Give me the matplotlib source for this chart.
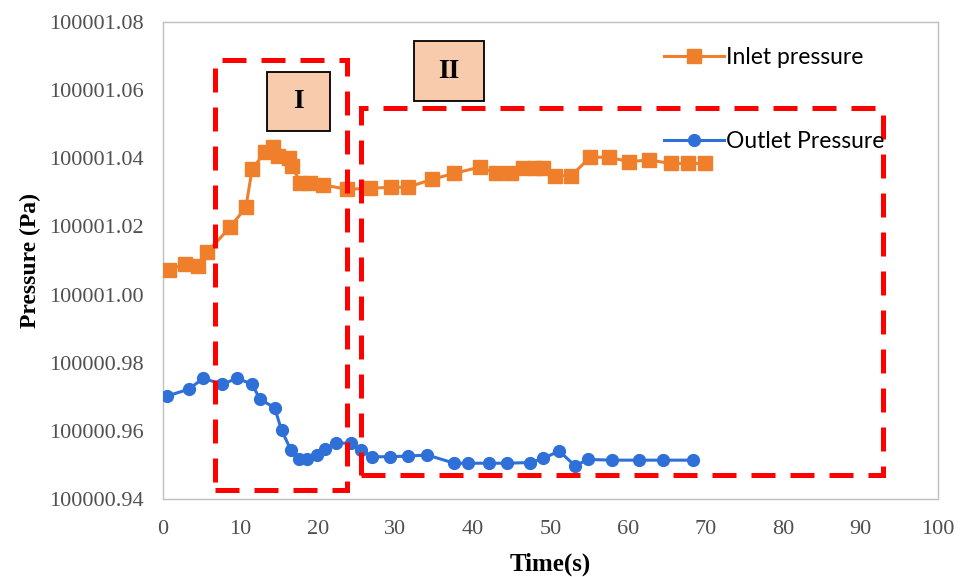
"""Inlet and outlet pressure over time with the two flow regions marked."""

import matplotlib

matplotlib.use("Agg")
import matplotlib.pyplot as plt
from matplotlib.patches import Rectangle
from matplotlib.ticker import MultipleLocator, StrMethodFormatter

# values
inlet_time = [0.8, 2.8, 4.5, 5.7, 8.7, 10.7, 11.5, 13.2, 14.2, 14.9, 16.2, 16.7,
              17.7, 19.0, 20.6, 23.8, 26.7, 29.4, 31.6, 34.7, 37.6, 40.9, 43.0,
              44.9, 46.5, 48.0, 49.1, 50.6, 52.7, 55.1, 57.6, 60.1, 62.7, 65.5,
              67.7, 69.9]
inlet_pressure = [100001.0072, 100001.0090, 100001.0084, 100001.0124, 100001.0199,
                  100001.0256, 100001.0368, 100001.0419, 100001.0432, 100001.0407,
                  100001.0401, 100001.0377, 100001.0328, 100001.0327, 100001.0322,
                  100001.0309, 100001.0312, 100001.0315, 100001.0315, 100001.0338,
                  100001.0356, 100001.0374, 100001.0356, 100001.0356, 100001.0371,
                  100001.0371, 100001.0371, 100001.0349, 100001.0349, 100001.0403,
                  100001.0403, 100001.0390, 100001.0395, 100001.0385, 100001.0385,
                  100001.0385]

outlet_time = [0.5, 3.3, 5.2, 7.6, 9.6, 11.5, 12.5, 14.4, 15.3, 16.5, 17.6, 18.6,
               19.9, 20.9, 22.3, 24.2, 25.6, 27.0, 29.3, 31.6, 34.1, 37.6, 39.3,
               42.1, 44.4, 47.3, 49.1, 51.1, 53.2, 54.8, 58.0, 61.4, 64.5, 68.4]
outlet_pressure = [100000.9702, 100000.9722, 100000.9754, 100000.9737, 100000.9754,
                   100000.9737, 100000.9693, 100000.9668, 100000.9602, 100000.9544,
                   100000.9516, 100000.9516, 100000.9529, 100000.9546, 100000.9565,
                   100000.9563, 100000.9544, 100000.9524, 100000.9524, 100000.9526,
                   100000.9529, 100000.9505, 100000.9505, 100000.9505, 100000.9505,
                   100000.9507, 100000.9519, 100000.9541, 100000.9497, 100000.9516,
                   100000.9514, 100000.9514, 100000.9514, 100000.9514]

# region boxes: (t_start, t_end, p_low, p_high)
region_one = (6.7, 23.7, 100000.9426, 100001.0689)
region_two = (25.5, 92.9, 100000.9470, 100001.0548)
# region name tags: (name, t_start, t_end, p_low, p_high)
tag_one = ("I", 13.4, 21.6, 100001.0480, 100001.0653)
tag_two = ("II", 32.4, 41.4, 100001.0568, 100001.0743)

ORANGE = "#F07F2C"
BLUE = "#2E6FD8"
SERIF = "Liberation Serif"


def draw_region(ax, bounds):
    x0, x1, y0, y1 = bounds
    box = Rectangle((x0, y0), x1 - x0, y1 - y0, fill=False, edgecolor="#FF0000",
                    linewidth=3.6, linestyle=(0, (4.8, 3.0)), zorder=4)
    ax.add_patch(box)


def draw_tag(ax, tag):
    name, x0, x1, y0, y1 = tag
    ax.add_patch(Rectangle((x0, y0), x1 - x0, y1 - y0, facecolor="#F8CBAD",
                           edgecolor="black", linewidth=1.3, zorder=5))
    ax.text((x0 + x1) / 2, (y0 + y1) / 2, name, family=SERIF, fontsize=20,
            fontweight="bold", ha="center", va="center", zorder=6)


def main():
    fig = plt.figure(figsize=(9.61, 5.77), dpi=100)
    ax = fig.add_axes([0.1696, 0.1352, 0.8064, 0.8267])

    ax.plot(inlet_time, inlet_pressure, color=ORANGE, linewidth=2.2, marker="s",
            markersize=10, label="Inlet pressure", zorder=3)
    ax.plot(outlet_time, outlet_pressure, color=BLUE, linewidth=2.2, marker="o",
            markersize=8.5, label="Outlet Pressure", zorder=3)

    draw_region(ax, region_one)
    draw_region(ax, region_two)
    draw_tag(ax, tag_one)
    draw_tag(ax, tag_two)

    ax.set_xlim(0, 100)
    ax.set_ylim(100000.94, 100001.08)
    ax.xaxis.set_major_locator(MultipleLocator(10))
    ax.yaxis.set_major_locator(MultipleLocator(0.02))
    ax.yaxis.set_major_formatter(StrMethodFormatter("{x:.2f}"))
    ax.tick_params(length=0, labelsize=16, colors="#505050")
    ax.tick_params(axis="y", pad=14)
    ax.tick_params(axis="x", pad=15)
    for label in ax.get_xticklabels() + ax.get_yticklabels():
        label.set_family(SERIF)
    for spine in ax.spines.values():
        spine.set_color("#BFBFBF")
        spine.set_linewidth(1.0)

    ax.set_xlabel("Time(s)", family=SERIF, fontsize=18, fontweight="bold", labelpad=10)
    ax.set_ylabel("Pressure (Pa)", family=SERIF, fontsize=17, fontweight="bold",
                  labelpad=6)

    ax.legend(loc="upper left", bbox_to_anchor=(0.62, 0.99), frameon=False,
              labelspacing=2.75, handlelength=2.6, handletextpad=0.1,
              prop={"family": "Lato", "size": 16.5})

    fig.savefig("out.png", dpi=100)


if __name__ == "__main__":
    main()
